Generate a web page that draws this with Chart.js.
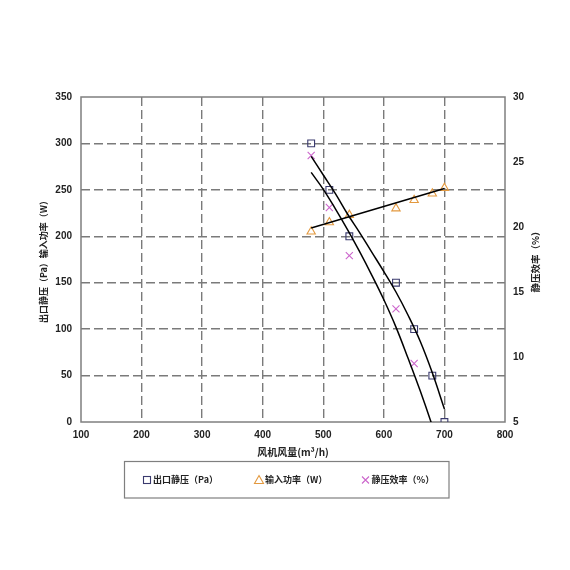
<!DOCTYPE html>
<html><head><meta charset="utf-8">
<script src="https://cdn.jsdelivr.net/npm/chart.js@4/dist/chart.umd.min.js"></script>
<style>html,body{margin:0;padding:0;background:#fff}</style>
</head><body>
<canvas id="c" width="570" height="570"></canvas>
<script>
// ---- data ----
const airflow = [480, 510, 543, 620, 650, 680, 700];            // 风机风量 (m³/h)
const staticPressure = [300, 250, 200, 150, 100, 50, 0];        // 出口静压 (Pa)
const inputPower = [205, 215, 223, 230, 239, 246, 252];         // 输入功率 (W)
const efficiencyAirflow = [480, 510, 543, 620, 650];
const staticEfficiency = [25.5, 21.5, 17.8, 13.7, 9.5];         // 静压效率 (%)
// trend lines, values
const trendAirflow = [480, 500, 520, 540, 560, 580, 600, 620, 640, 660, 680, 700];
const pressureTrend = [286, 266, 246, 224, 204, 183, 162, 140, 115, 87, 53, 14];
const efficiencyTrend = [24.2, 22.9, 21.4, 19.8, 18.1, 16.3, 14.4, 12.3, 9.9, 7.4, 4.7, 1.8];
const powerTrendAirflow = [480, 700];
const powerTrend = [209, 251.5];
// labels
const seriesNames = ['出口静压（Pa）', '输入功率（W）', '静压效率（%）'];
const xTitle = '风机风量(m³/h)';
const yTitle = '出口静压（Pa）输入功率（W）';
const y2Title = '静压效率（%）';

const colSquare = '#3a3a6e', colTri = '#e3993f', colCross = '#cc66cc';
const tickFont = {family: "'Liberation Sans', Arial, sans-serif", weight: 'bold', size: 10};
const cjkFont = "bold 9px 'Noto Sans CJK SC', sans-serif";

const pts = (xs, ys) => xs.map((x, i) => ({x, y: ys[i]}));

const decor = {
  id: 'decor',
  beforeDatasetsDraw(chart) {
    const {ctx, chartArea: a} = chart;
    ctx.save();
    ctx.strokeStyle = '#7f7f7f';
    ctx.lineWidth = 1.5;
    ctx.strokeRect(a.left, a.top, a.right - a.left, a.bottom - a.top);
    ctx.restore();
  },
  afterDraw(chart) {
    const {ctx, chartArea: a} = chart;
    const cy = (a.top + a.bottom) / 2, cx = (a.left + a.right) / 2;
    ctx.save();
    ctx.fillStyle = '#222';
    ctx.textAlign = 'center';
    ctx.textBaseline = 'middle';
    // left title
    ctx.font = cjkFont;
    ctx.save(); ctx.translate(44, cy); ctx.rotate(-Math.PI / 2); ctx.fillText(yTitle, 0, 0); ctx.restore();
    // right title
    ctx.font = "bold 9.5px 'Noto Sans CJK SC', sans-serif";
    ctx.save(); ctx.translate(535, cy); ctx.rotate(-Math.PI / 2); ctx.fillText(y2Title, 0, 0); ctx.restore();
    // x title
    ctx.font = "bold 10px 'Noto Sans CJK SC', sans-serif";
    ctx.fillText(xTitle, cx, 452);
    // legend box
    ctx.strokeStyle = '#7f7f7f';
    ctx.lineWidth = 1.2;
    ctx.strokeRect(124.5, 461.5, 324.5, 36.5);
    const ly = 480;
    ctx.font = cjkFont;
    ctx.textAlign = 'left';
    ctx.lineWidth = 1.1;
    // square
    ctx.strokeStyle = colSquare;
    ctx.strokeRect(143.5, ly - 3.5, 7, 7);
    ctx.fillText(seriesNames[0], 153, ly);
    // triangle
    ctx.strokeStyle = colTri;
    ctx.beginPath(); ctx.moveTo(259, ly - 4.5); ctx.lineTo(263.5, ly + 3.5); ctx.lineTo(254.5, ly + 3.5); ctx.closePath(); ctx.stroke();
    ctx.fillText(seriesNames[1], 265, ly);
    // cross
    ctx.strokeStyle = colCross;
    ctx.beginPath(); ctx.moveTo(362, ly - 3.5); ctx.lineTo(369, ly + 3.5); ctx.moveTo(369, ly - 3.5); ctx.lineTo(362, ly + 3.5); ctx.stroke();
    ctx.fillText(seriesNames[2], 371.5, ly);
    ctx.restore();
  }
};

const edgeHidden = (lo, hi) => (c) => (c.tick && (c.tick.value === lo || c.tick.value === hi)) ? 'rgba(0,0,0,0)' : '#7a7a7a';

new Chart(document.getElementById('c'), {
  type: 'scatter',
  data: {
    datasets: [
      {label: seriesNames[0] + ' trend', data: pts(trendAirflow, pressureTrend), yAxisID: 'y', showLine: true, tension: 0.4,
       borderColor: '#000', borderWidth: 1.5, pointRadius: 0},
      {label: 'efficiency trend', data: pts(trendAirflow, efficiencyTrend), yAxisID: 'y1', showLine: true, tension: 0.4,
       borderColor: '#000', borderWidth: 1.5, pointRadius: 0},
      {label: 'power trend', data: pts(powerTrendAirflow, powerTrend), yAxisID: 'y', showLine: true,
       borderColor: '#000', borderWidth: 1.5, pointRadius: 0},
      {label: seriesNames[0], data: pts(airflow, staticPressure), yAxisID: 'y', pointStyle: 'rect', pointRadius: 4.8,
       pointBorderColor: colSquare, pointBackgroundColor: 'rgba(0,0,0,0)', pointBorderWidth: 1.1},
      {label: seriesNames[1], data: pts(airflow, inputPower), yAxisID: 'y', pointStyle: 'triangle', pointRadius: 4.8,
       pointBorderColor: colTri, pointBackgroundColor: 'rgba(0,0,0,0)', pointBorderWidth: 1.1},
      {label: seriesNames[2], data: pts(efficiencyAirflow, staticEfficiency), yAxisID: 'y1', pointStyle: 'crossRot', pointRadius: 5,
       pointBorderColor: colCross, pointBorderWidth: 1.1}
    ]
  },
  options: {
    responsive: false,
    animation: false,
    layout: {padding: {top: 97, left: 0, right: 0, bottom: 0}},
    plugins: {legend: {display: false}, tooltip: {enabled: false}},
    scales: {
      x: {
        type: 'linear', min: 100, max: 800,
        ticks: {stepSize: 100, font: tickFont, color: '#222', padding: 7, maxRotation: 0},
        grid: {color: edgeHidden(100, 800), lineWidth: 1.4, drawTicks: false},
        border: {display: false, dash: [9, 4]},
        afterFit(s) { s.height = 148; }
      },
      y: {
        position: 'left', min: 0, max: 350,
        ticks: {stepSize: 50, font: tickFont, color: '#222', padding: 9},
        grid: {color: edgeHidden(0, 350), lineWidth: 1.4, drawTicks: false},
        border: {display: false, dash: [9, 4]},
        afterFit(s) { s.width = 81; }
      },
      y1: {
        position: 'right', min: 5, max: 30,
        ticks: {stepSize: 5, font: tickFont, color: '#222', padding: 8},
        grid: {display: false, drawTicks: false},
        border: {display: false},
        afterFit(s) { s.width = 65; }
      }
    }
  },
  plugins: [decor]
});
</script>
</body></html>
